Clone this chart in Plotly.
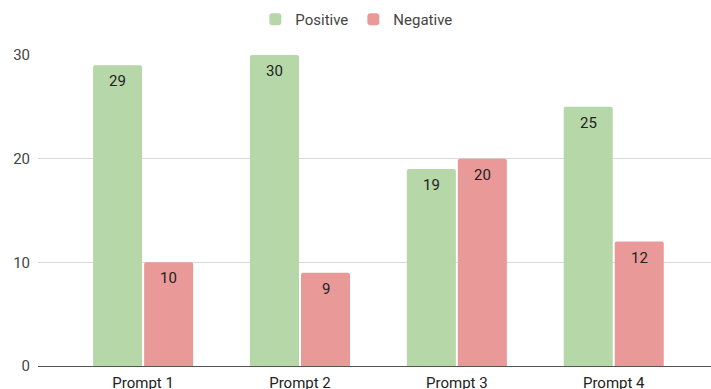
import plotly.graph_objects as go

categories = ["Prompt 1", "Prompt 2", "Prompt 3", "Prompt 4"]
positive = [29, 30, 19, 25]
negative = [10, 9, 20, 12]

GREEN = "#b6d7a8"
RED = "#ea9999"
BAR_W = 0.3125
POS_OFF = -0.3189
NEG_OFF = 0.0064

fig = go.Figure()
fig.add_trace(go.Bar(
    name="Positive", x=categories, y=positive,
    marker=dict(color=GREEN, line=dict(width=0), cornerradius=2),
    width=BAR_W, offset=POS_OFF,
))
fig.add_trace(go.Bar(
    name="Negative", x=categories, y=negative,
    marker=dict(color=RED, line=dict(width=0), cornerradius=2),
    width=BAR_W, offset=NEG_OFF,
))

# value labels inside the top of each bar
for i, (p, n) in enumerate(zip(positive, negative)):
    for val, off in ((p, POS_OFF), (n, NEG_OFF)):
        fig.add_annotation(
            x=i + off + BAR_W / 2, y=val, xref="x", yref="y",
            text=str(val), showarrow=False, yanchor="top", yshift=-5,
            font=dict(family="Roboto", size=15, color="#222222"),
        )

fig.update_layout(
    width=711, height=389,
    margin=dict(l=38, r=0, t=55, b=23, autoexpand=False),
    paper_bgcolor="white", plot_bgcolor="white",
    barmode="overlay",
    font=dict(family="Roboto", size=15, color="#444444"),
    showlegend=True,
    legend=dict(
        orientation="h", x=0.473, xanchor="center", y=1.114, yanchor="middle",
        font=dict(size=15, color="#444444"),
        itemsizing="constant",
    ),
)
fig.update_xaxes(
    type="category", range=[-0.67, 3.62],
    showgrid=False, showline=False, zeroline=False,
    ticks="", tickfont=dict(size=15, color="#222222"),
    ticklabelstandoff=6, automargin=False,
    fixedrange=True,
)
fig.update_yaxes(
    range=[0, 30], tickvals=[0, 10, 20, 30],
    showgrid=True, gridcolor="#d9d9d9", gridwidth=1,
    zeroline=True, zerolinecolor="#555555", zerolinewidth=1.3,
    showline=False, ticks="", ticklabelstandoff=7, automargin=False,
    tickfont=dict(size=15, color="#444444"),
    fixedrange=True,
)

fig.write_html("out.html", config={"displayModeBar": False})
